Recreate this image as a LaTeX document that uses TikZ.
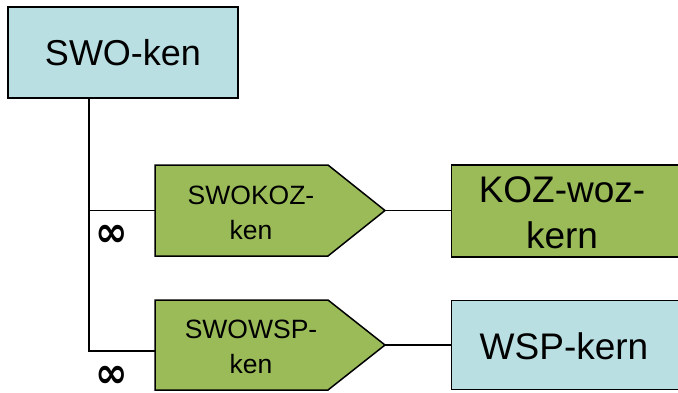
\documentclass[tikz,border=0pt]{standalone}
\usepackage{fontspec}
\setmainfont{Liberation Sans}
\newfontfamily\symfont{DejaVu Sans}
\definecolor{boxblue}{RGB}{185,223,227}
\definecolor{boxgreen}{RGB}{155,187,89}
\tikzset{
  boxline/.style={draw=black, line width=1.5pt},
  conn/.style={draw=black, line width=1.2pt},
  bigtext/.style={inner sep=0pt, align=center, font=\fontsize{37}{46}\selectfont},
  midtext/.style={inner sep=0pt, align=center, font=\fontsize{26.5}{35}\selectfont},
  mult/.style={inner sep=0pt, anchor=base, text height=15pt, text depth=0pt,
               font=\symfont\bfseries\fontsize{30}{32}\selectfont},
}
\begin{document}
\begin{tikzpicture}[x=1pt,y=-1pt]
\useasboundingbox (0,0) rectangle (678,392);
\clip (0,0) rectangle (678,392);
\fill[white] (0,0) rectangle (678,392);

% top entity
\node[boxline, fill=boxblue, minimum width=230pt, minimum height=91pt, inner sep=0pt,
      font=\fontsize{36}{40}\selectfont] (swo) at (123,52.5) {SWO-ken};

% relationship pentagons
\coordinate (kozL) at (155,210.5);
\coordinate (kozTip) at (385,210.5);
\draw[boxline, fill=boxgreen] (155,165) -- (328,165) -- (kozTip) -- (328,256) -- (155,256) -- cycle;
\node[midtext] (swokoz) at (251,213) {SWOKOZ-\\ken};

\coordinate (wspL) at (155,351);
\coordinate (wspTip) at (385,345);
\draw[boxline, fill=boxgreen] (155,300) -- (328,300) -- (wspTip) -- (328,390) -- (155,390) -- cycle;
\node[midtext] (swowsp) at (251,347) {SWOWSP-\\ken};

% target entities
\node[boxline, fill=boxgreen, minimum width=250pt, minimum height=92pt, inner sep=0pt] (koz) at (576.5,211) {};
\node[bigtext] (kozt) at (562,212.5) {KOZ-woz-\\kern};

\node[boxline, fill=boxblue, minimum width=250pt, minimum height=89pt, inner sep=0pt] (wsp) at (576.5,345) {};
\node[bigtext] (wspt) at (564,346) {WSP-kern};

% connectors
\coordinate (trunk) at (89,98);
\draw[conn] (trunk) |- (kozL);
\draw[conn] (trunk) |- (wspL);
\draw[conn] (kozTip) -- (koz.west |- kozTip);
\draw[conn] (wspTip) -- (wsp.west |- wspTip);

% cardinalities
\node[mult] (m1) at (111.5,246) {\scalebox{1.3}[1.4]{∞}};
\node[mult] (m2) at (111.5,387) {\scalebox{1.3}[1.4]{∞}};
\end{tikzpicture}
\end{document}
